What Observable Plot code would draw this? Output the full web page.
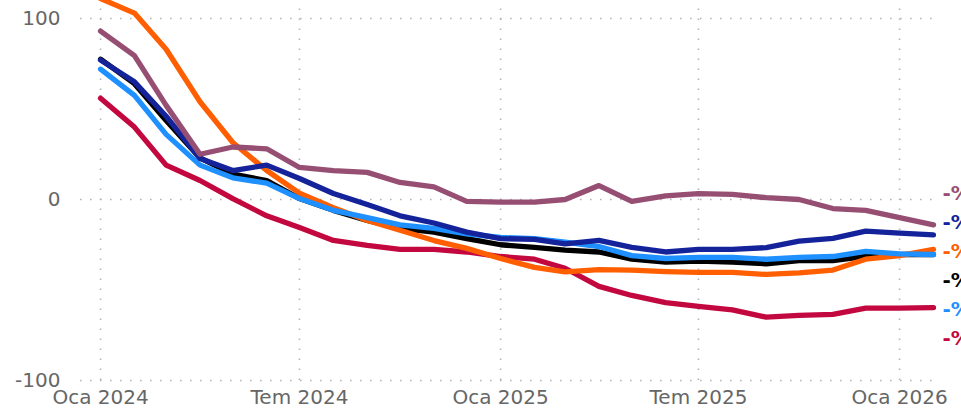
<!DOCTYPE html>
<html>
<head>
<meta charset="utf-8">
<script src="https://cdn.jsdelivr.net/npm/d3@7"></script>
<script src="https://cdn.jsdelivr.net/npm/@observablehq/plot@0.6"></script>
<style>
  html, body { margin: 0; padding: 0; background: #fff; }
  #chart svg { display: block; overflow: hidden; }
</style>
</head>
<body>
<div id="chart"></div>
<script>
const months = ["2024-01","2024-02","2024-03","2024-04","2024-05","2024-06","2024-07","2024-08","2024-09","2024-10","2024-11","2024-12",
  "2025-01","2025-02","2025-03","2025-04","2025-05","2025-06","2025-07","2025-08","2025-09","2025-10","2025-11","2025-12",
  "2026-01","2026-02"];

const seriesNames = ["black", "crimson", "orange", "lightblue", "navy", "purple"];
const seriesColors = ["#000000", "#c3073f", "#ff5f00", "#1e90ff", "#15239a", "#964f72"];

const blackValues     = [77.5, 64, 43.6, 23, 14, 10.5, 0.5, -6, -11.6, -16, -18, -21.6, -25, -26.5, -28, -29, -33, -34.6, -34, -34.6, -35.5, -33.7, -33.7, -31.4, -30.4, -30.4];
const crimsonValues   = [56, 40, 19, 10.5, 0.5, -9, -15.5, -22.6, -25.4, -27.6, -27.6, -29, -31.5, -33, -38, -48, -53, -57, -59, -61, -65, -64, -63.5, -60, -60, -59.7];
const orangeValues    = [111, 103, 83, 54, 31.5, 16, 3.5, -4.5, -11.6, -17, -22.7, -27, -32.6, -37.5, -40, -38.7, -39, -39.8, -40.3, -40.3, -41.4, -40.5, -39, -33, -31, -27.6];
const lightblueValues = [72, 57.5, 36, 19, 12, 9, 0.5, -6, -10, -14, -16, -19, -21, -21.6, -23.5, -26, -31, -32.6, -32, -32, -33, -32, -31.5, -28.7, -30, -30.4];
const navyValues      = [77, 65, 46, 22.6, 16, 19, 11.6, 3.3, -2.8, -9, -13, -18, -21.6, -22, -24.5, -22.6, -26.4, -29, -27.6, -27.6, -26.6, -23, -21.5, -17.5, -18.6, -19.5];
const purpleValues    = [93, 79.5, 52, 25, 29, 28, 17.7, 16, 15, 9.4, 7, -1, -1.5, -1.5, 0, 7.7, -1, 2, 3.3, 2.8, 1, 0, -5, -6, -10, -14];

const yTicks = [-100, 0, 100];
const xTickMonths = ["2024-01", "2024-07", "2025-01", "2025-07", "2026-01"];
const monthNames = ["Oca","Şub","Mar","Nis","May","Haz","Tem","Ağu","Eyl","Eki","Kas","Ara"];

const allValues = [blackValues, crimsonValues, orangeValues, lightblueValues, navyValues, purpleValues];
const parse = m => new Date(m + "-01T00:00:00Z");
const rows = [];
seriesNames.forEach((name, si) => {
  months.forEach((m, i) => rows.push({series: name, date: parse(m), value: allValues[si][i]}));
});

// end labels, dodged vertically
const ends = seriesNames.map((name, si) => ({
  series: name, color: seriesColors[si],
  date: parse(months[months.length - 1]),
  value: allValues[si][allValues[si].length - 1]
}));
const sorted = ends.slice().sort((a, b) => b.value - a.value);
sorted.forEach(d => d.pos = d.value);
const gap = 16;
for (let k = 0; k < 500; k++) {
  for (let i = 1; i < sorted.length; i++) {
    const diff = sorted[i - 1].pos - sorted[i].pos;
    if (diff < gap) {
      const push = (gap - diff) / 2;
      sorted[i - 1].pos += push;
      sorted[i].pos -= push;
    }
  }
}

const W = 961, H = 419;
const marginLeft = 80, marginRight = 21, marginTop = 0, marginBottom = 39;
const x0 = new Date(Date.UTC(2023, 11, 13, 16));
const x1 = new Date(Date.UTC(2026, 1, 7, 10));
const yTop = 100 + 18 / (362 / 200);

const chart = Plot.plot({
  width: W,
  height: H,
  marginLeft, marginRight, marginTop, marginBottom,
  style: {fontFamily: "DejaVu Sans", fontSize: "20px", color: "#666", background: "#fff", overflow: "hidden"},
  x: {type: "utc", domain: [x0, x1], ticks: xTickMonths.map(parse), tickSize: 0, tickPadding: 9,
      tickFormat: d => `${monthNames[d.getUTCMonth()]} ${d.getUTCFullYear()}`, label: null},
  y: {domain: [-100, yTop], ticks: yTicks, tickSize: 0, tickPadding: 20, tickFormat: d => String(d), label: null},
  marks: [
    Plot.ruleY(yTicks, {stroke: "#b5b5b5", strokeWidth: 1.6, strokeDasharray: "1.6,8.4"}),
    Plot.ruleX(xTickMonths.map(parse), {stroke: "#b5b5b5", strokeWidth: 1.6, strokeDasharray: "1.6,8.4", y1: -100, y2: yTop}),
    Plot.line(rows, {x: "date", y: "value", z: "series",
      stroke: d => seriesColors[seriesNames.indexOf(d.series)],
      strokeWidth: 5.3, strokeLinecap: "round", strokeLinejoin: "round"}),
    Plot.text(sorted, {x: "date", y: "pos", text: d => "-%" + Math.round(-d.value),
      fill: "color", textAnchor: "start", lineAnchor: "top", dx: 9, dy: 4,
      fontWeight: "bold", fontSize: 20})
  ]
});
document.getElementById("chart").appendChild(chart);
</script>
</body>
</html>
